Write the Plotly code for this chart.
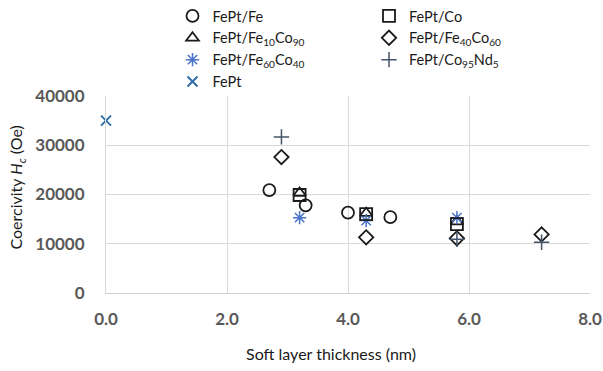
import plotly.graph_objects as go

# Data
fe_x = [2.7, 3.3, 4.0, 4.7]
fe_y = [20900, 17800, 16300, 15400]

co_x = [3.2, 4.3, 5.8]
co_y = [19900, 16000, 14000]

fe10co90_x = [3.2, 4.3, 5.8]
fe10co90_y = [20300, 16200, 14500]

fe40co60_x = [2.9, 4.3, 5.8, 7.2]
fe40co60_y = [27600, 11300, 11100, 11900]

fe60co40_x = [3.2, 4.3, 5.8]
fe60co40_y = [15300, 14700, 15300]

co95nd5_x = [2.9, 5.8, 7.2]
co95nd5_y = [31700, 10900, 10300]

fept_x = [0.0]
fept_y = [35000]

x_ticks = [0, 2, 4, 6, 8]
x_tick_labels = ["0.0", "2.0", "4.0", "6.0", "8.0"]
y_ticks = [0, 10000, 20000, 30000, 40000]
y_tick_labels = ["0", "10000", "20000", "30000", "40000"]

x_title = "Soft layer thickness (nm)"
y_title = "Coercivity <i>H</i><sub><i>c</i></sub> (Oe)"

FONT = "Lato"
BLACK = "#1a1a1a"

fig = go.Figure()

def add(x, y, name, symbol, color, size, legend, lw=1.8):
    fig.add_trace(go.Scatter(
        x=x, y=y, mode="markers", name=name, legend=legend, cliponaxis=False,
        marker=dict(symbol=symbol, size=size, color=color,
                    line=dict(color=color, width=lw)),
    ))

# Left legend column
add(fe_x, fe_y, "FePt/Fe", "circle-open", BLACK, 12, "legend")
add(fe10co90_x, fe10co90_y, "FePt/Fe<sub>10</sub>Co<sub>90</sub>", "triangle-up-open", BLACK, 11, "legend")
add(fe60co40_x, fe60co40_y, "FePt/Fe<sub>60</sub>Co<sub>40</sub>", "asterisk-open", "#4a74c9", 11, "legend", 1.5)
add(fept_x, fept_y, "FePt", "x-thin-open", "#2f6ea8", 10, "legend", 2)
# Right legend column
add(co_x, co_y, "FePt/Co", "square-open", BLACK, 12, "legend2")
add(fe40co60_x, fe40co60_y, "FePt/Fe<sub>40</sub>Co<sub>60</sub>", "diamond-open", BLACK, 11, "legend2")
add(co95nd5_x, co95nd5_y, "FePt/Co<sub>95</sub>Nd<sub>5</sub>", "cross-thin-open", "#44546a", 11, "legend2", 1.5)

legend_common = dict(
    xref="container", yref="container", xanchor="left", yanchor="top",
    font=dict(family=FONT, size=14.5, color=BLACK),
    bgcolor="rgba(0,0,0,0)", tracegroupgap=0, itemclick=False,
)

fig.update_layout(
    width=603, height=371,
    margin=dict(l=106, r=13, t=96, b=78, autoexpand=False),
    paper_bgcolor="white", plot_bgcolor="white",
    font=dict(family=FONT, color=BLACK),
    legend=dict(x=172.5 / 603, y=1.012, **legend_common),
    legend2=dict(x=369 / 603, y=1.012, **legend_common),
    xaxis=dict(
        range=[0, 8], tickvals=x_ticks, ticktext=x_tick_labels,
        showgrid=True, gridcolor="#d9d9d9", gridwidth=1,
        zeroline=False, showline=True, linecolor="#d0d0d0", linewidth=1,
        mirror=False, automargin=False,
        tickfont=dict(family=FONT, size=17, color="#595959", weight="bold"),
        ticks="outside", ticklen=11, tickcolor="rgba(0,0,0,0)",
    ),
    yaxis=dict(
        range=[0, 40000], tickvals=y_ticks, ticktext=y_tick_labels,
        showgrid=True, gridcolor="#d9d9d9", gridwidth=1,
        zeroline=False, showline=True, linecolor="#d9d9d9", linewidth=1,
        automargin=False,
        tickfont=dict(family=FONT, size=17, color="#595959", weight="bold"),
        ticks="outside", ticklen=17, tickcolor="rgba(0,0,0,0)",
    ),
    annotations=[
        dict(text=x_title, xref="paper", yref="paper", x=0.465, y=-0.307,
             xanchor="center", yanchor="middle", showarrow=False,
             font=dict(family=FONT, size=16, color=BLACK)),
        dict(text=y_title, xref="paper", yref="paper", x=-0.184, y=0.535,
             xanchor="center", yanchor="middle", showarrow=False, textangle=-90,
             font=dict(family=FONT, size=16, color=BLACK)),
    ],
)

fig.write_html("out.html")
